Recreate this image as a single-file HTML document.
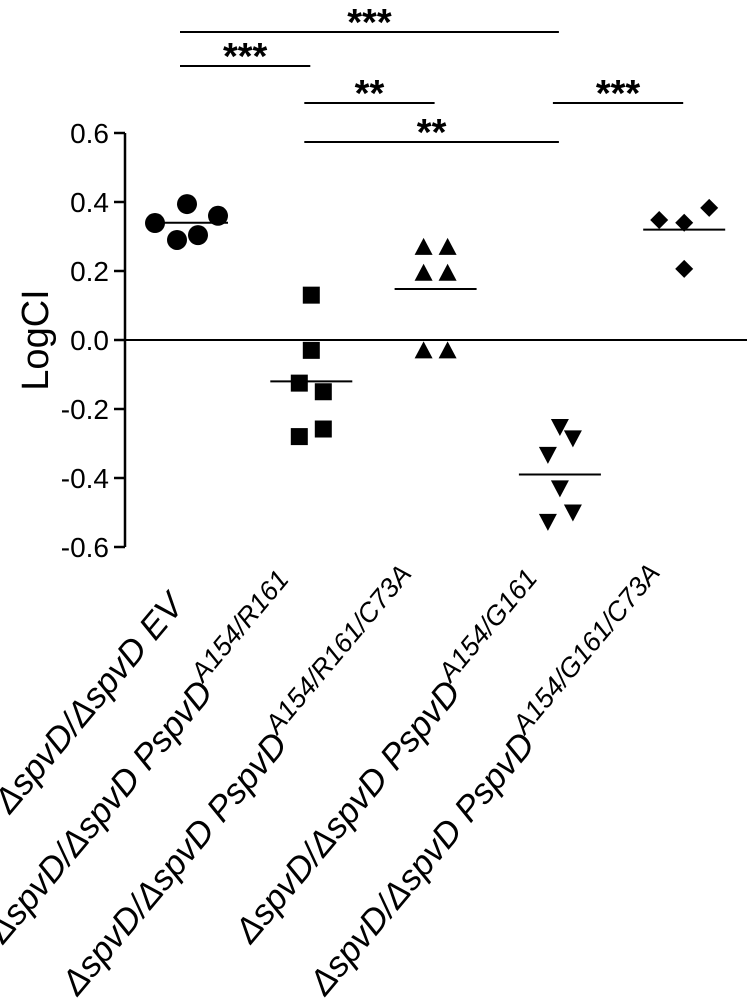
<!DOCTYPE html>
<html><head><meta charset="utf-8"><style>
html,body{margin:0;padding:0;background:#fff;}
svg{display:block;font-family:"Liberation Sans",Arial,sans-serif;}
</style></head><body>
<svg id="chart" width="750" height="1004" viewBox="0 0 750 1004" xmlns="http://www.w3.org/2000/svg"></svg>
<script>
const groupLabels=["EV","A154/R161","A154/R161/C73A","A154/G161","A154/G161/C73A"];
const circleVals=[0.339,0.394,0.36,0.29,0.304];
const squareVals=[0.13,-0.03,-0.125,-0.15,-0.258,-0.28];
const triVals=[0.27,0.27,0.195,0.195,-0.03,-0.03];
const downTriVals=[-0.252,-0.285,-0.333,-0.43,-0.50,-0.527];
const diamondVals=[0.348,0.34,0.383,0.206];
const meanVals=[0.34,-0.12,0.148,-0.39,0.32];
const yTicks=[0.6,0.4,0.2,0.0,-0.2,-0.4,-0.6];
const yTickLabels=["0.6","0.4","0.2","0.0","-0.2","-0.4","-0.6"];
const sigFrom=[0,0,1,1,3];
const sigTo=[3,1,2,3,4];
const sigLabels=["***","***","**","**","***"];

const svg=document.getElementById('chart');
const NS="http://www.w3.org/2000/svg";
const y=v=>340-v*345;
const xc=i=>187+i*124.3;
function mk(tag,attrs,parent){const e=document.createElementNS(NS,tag);for(const k in attrs)e.setAttribute(k,attrs[k]);(parent||svg).appendChild(e);return e;}

let ax=mk('line',{x1:125,y1:y(0.6),x2:125,y2:y(-0.6),stroke:'#000','stroke-width':2.5});


yTicks.forEach((t,i)=>{
  const tk=mk('line',{x1:114,y1:y(t),x2:125,y2:y(t),stroke:'#000','stroke-width':2.5});
  
  
  const tl=mk('text',{x:109,y:y(t)+10,'text-anchor':'end','font-size':28});
  tl.textContent=yTickLabels[i];
  
  
});
const zl=mk('line',{x1:125,y1:y(0),x2:747,y2:y(0),stroke:'#000','stroke-width':2});


const yt=mk('text',{x:0,y:0,transform:'translate(48,340) rotate(-90)','text-anchor':'middle','font-size':38});
yt.textContent="LogCI";



const circOff=[-32,0,31,-10,11];
const sqOff=[0,0,-12,12,12,-12];
const triOff=[-12,12,-12,12,-12,12];
const dtOff=[0,13,-12,0,13,-12];
const diaOff=[-25,0,25,0];

circleVals.forEach((v,i)=>{
  const c=mk('circle',{cx:xc(0)+circOff[i],cy:y(v),r:10,fill:'#000'});
  
  
});
squareVals.forEach((v,i)=>{
  const r=mk('rect',{x:xc(1)+sqOff[i]-8.5,y:y(v)-8.5,width:17,height:17,fill:'#000'});
  
  
});
triVals.forEach((v,i)=>{
  const cx=xc(2)+triOff[i],cy=y(v);
  const p=mk('polygon',{points:`${cx-9},${cy+8} ${cx+9},${cy+8} ${cx},${cy-9}`,fill:'#000'});
  
  
});
downTriVals.forEach((v,i)=>{
  const cx=xc(3)+dtOff[i],cy=y(v);
  const p=mk('polygon',{points:`${cx-9},${cy-8} ${cx+9},${cy-8} ${cx},${cy+9}`,fill:'#000'});
  
  
});
diamondVals.forEach((v,i)=>{
  const cx=xc(4)+diaOff[i],cy=y(v);
  const p=mk('polygon',{points:`${cx},${cy-9} ${cx+9},${cy} ${cx},${cy+9} ${cx-9},${cy}`,fill:'#000'});
  
  
});
meanVals.forEach((v,i)=>{
  const l=mk('line',{x1:xc(i)-41,y1:y(v),x2:xc(i)+41,y2:y(v),stroke:'#000','stroke-width':2});
  
  
});

const sigY=[32,66,103,142,103];
sigLabels.forEach((s,i)=>{
  const x1=xc(sigFrom[i])-7,x2=xc(sigTo[i])-1;
  const l=mk('line',{x1:x1,y1:sigY[i],x2:x2,y2:sigY[i],stroke:'#000','stroke-width':2});
  
  
  const t=mk('text',{x:(x1+x2)/2,y:sigY[i]+3,'text-anchor':'middle','font-size':38,'font-weight':'bold'});
  t.textContent=s;
  
  
});

const labStartDx=[-177,-308,-358,-309,-359];
const labStartY=[815,945,997,945,997];
groupLabels.forEach((g,i)=>{
  const t=mk('text',{transform:`translate(${xc(i)+labStartDx[i]},${labStartY[i]}) rotate(-50)`,'text-anchor':'start','font-size':35,'font-style':'italic'});
  
  
  if(i==0){t.textContent="\u0394spvD/\u0394spvD EV";}
  else{
    const a=mk('tspan',{},t);a.textContent="\u0394spvD/\u0394spvD PspvD";
    const b=mk('tspan',{'font-size':27,dy:-15},t);b.textContent=g;
  }
});
</script>
</body></html>
